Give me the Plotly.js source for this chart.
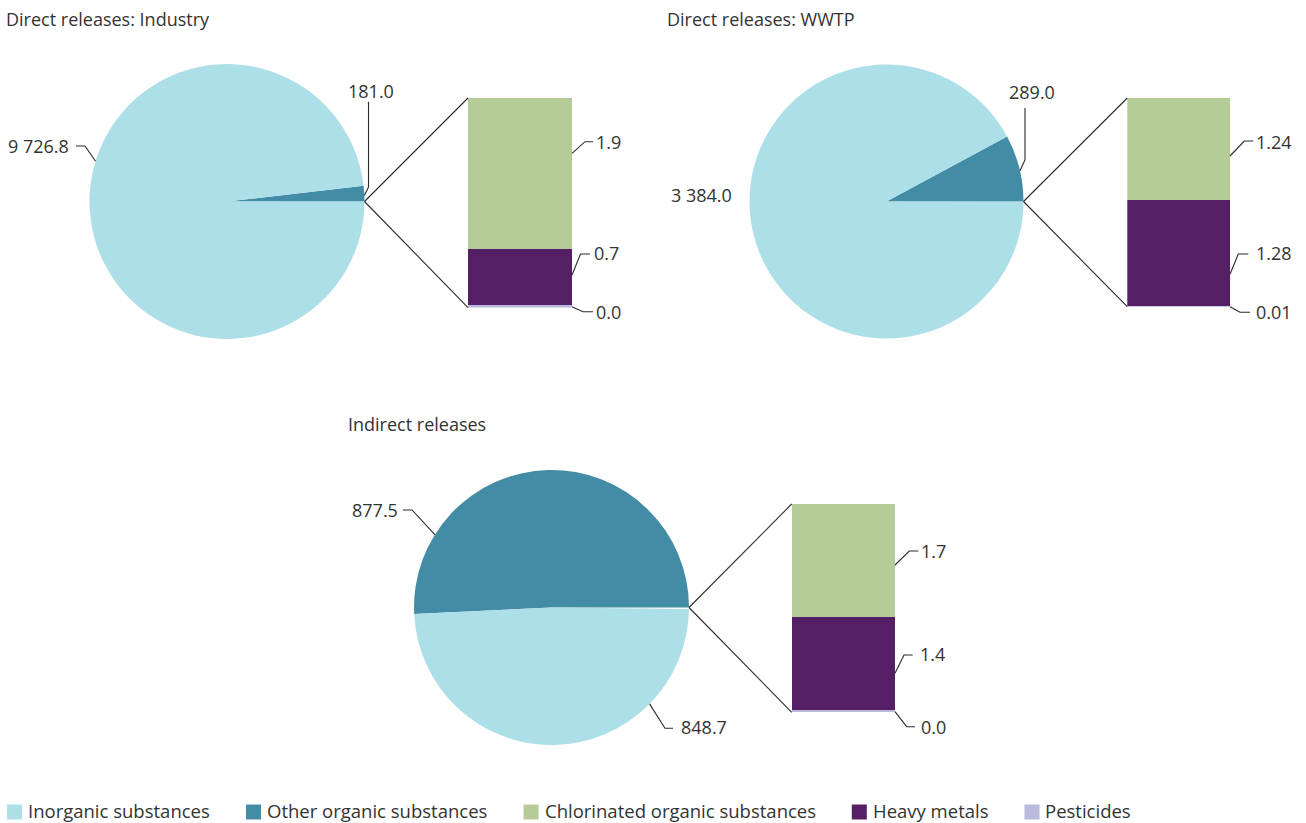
<!DOCTYPE html>
<html>
<head>
<meta charset="utf-8">
<script src="https://cdn.plot.ly/plotly-3.0.1.min.js"></script>
<style>html,body{margin:0;padding:0;background:#fff;}#chart{width:1306px;height:823px;}</style>
</head>
<body>
<div id="chart"></div>
<script>
// ---------- DATA ----------
const chartTitles = ['Direct releases: Industry', 'Direct releases: WWTP', 'Indirect releases'];
const categories = ['Inorganic substances', 'Other organic substances', 'Chlorinated organic substances', 'Heavy metals', 'Pesticides'];
const inorganic = [9726.8, 3384.0, 848.7];
const otherOrganic = [181.0, 289.0, 877.5];
const chlorinated = [1.9, 1.24, 1.7];
const heavyMetals = [0.7, 1.28, 1.4];
const pesticides = [0.03, 0.01, 0.03];
const barDecimals = [1, 2, 1];
const colors = ['#addfe8', '#438ca6', '#b5cc98', '#551f66', '#bbb9dc'];

// ---------- LAYOUT CONSTANTS (pixels) ----------
const W = 1306, H = 823;
const FONT = 'Open Sans, sans-serif';
const TXT = '#333333';
const FS = 18;
const PADL = 2; // annotation inner padding compensation
const LINE = {color: '#2b2b2b', width: 1.1};
const pieGeom = [{cx: 227, cy: 201.5, r: 137.5}, {cx: 886.5, cy: 201.5, r: 137}, {cx: 551.5, cy: 607.5, r: 137.5}];
const barGeom = [{x0: 468, x1: 572, y0: 98, h: 209.6}, {x0: 1127.3, x1: 1230, y0: 98, h: 208.7}, {x0: 791.7, x1: 895, y0: 504, h: 208.3}];
const titlePos = [{x: 7, y: 19}, {x: 668, y: 19}, {x: 349, y: 424}];
// pie label leaders: edge angle (deg), polyline after edge point, text position/anchor
const pieLabelSpec = [
  [ // inorganic, other
    {ang: 163, pts: [[85, 146], [76, 146]], tx: 67.5, ty: 146, anchor: 'right'},
    {ang: 2.5, pts: [[368.5, 187], [368.5, 101.7]], tx: 371, ty: 90.7, anchor: 'center'}
  ],
  [
    {ang: null, pts: [], tx: 730.5, ty: 195, anchor: 'right'},
    {ang: 13, pts: [[1025, 160], [1025, 108]], tx: 1031.5, ty: 91.7, anchor: 'center'}
  ],
  [
    {ang: -44.5, pts: [[665, 728.3], [673, 728.3]], tx: 681.5, ty: 726.7, anchor: 'left'},
    {ang: 148, pts: [[412, 510], [403, 510]], tx: 396.5, ty: 510, anchor: 'right'}
  ]
];
// bar label leaders relative to bar right edge (x1) and top (y0): [startDy, elbowDx, elbowDy, endDx, textDx, textDy]
const barLabelSpec = [
  [[55.3, 13, 43.7, 21, 25, 43.7], [177, 8.5, 156, 18, 23, 155.3], [208.7, 11, 213.7, 21, 25, 213.7]],
  [[58, 14.3, 43, 23.3, 26.7, 43.7], [176.3, 8.3, 156, 18.3, 27.3, 155.3], [208.7, 10, 214.3, 20, 26.7, 214]],
  [[61, 14.3, 47, 23.3, 27.3, 47], [169.3, 9, 151, 17.7, 26, 150], [207.7, 11.7, 222.7, 20, 27.3, 222.7]]
];

const px = x => x / W;
const py = y => 1 - y / H;
function fmt(v, d) {
  const s = v.toFixed(d);
  const parts = s.split('.');
  parts[0] = parts[0].replace(/\B(?=(\d{3})+(?!\d))/g, ' ');
  return parts.join('.');
}

const traces = [];
const shapes = [];
const annotations = [];
const layout = {
  width: W, height: H,
  margin: {l: 0, r: 0, t: 0, b: 0},
  paper_bgcolor: '#ffffff', plot_bgcolor: '#ffffff',
  showlegend: false, hovermode: false,
  barmode: 'stack', bargap: 0,
  font: {family: FONT, color: TXT, size: FS}
};

function addText(x, y, anchor, text, size) {
  const dx = anchor === 'left' ? -PADL : (anchor === 'right' ? PADL : 0);
  annotations.push({xref: 'paper', yref: 'paper', x: px(x + dx), y: py(y), xanchor: anchor, yanchor: 'middle', showarrow: false, text: text, borderpad: 0, font: {family: FONT, size: size || FS, color: TXT}});
}

for (let i = 0; i < 3; i++) {
  const g = pieGeom[i];
  const b = barGeom[i];
  const barVals = [pesticides[i], heavyMetals[i], chlorinated[i]];
  const barTotal = barVals.reduce((a, c) => a + c, 0);
  // pie: small white wedge = bar group, then other organic, then inorganic
  traces.push({
    type: 'pie',
    values: [barTotal, otherOrganic[i], inorganic[i]],
    labels: ['Bar group', categories[1], categories[0]],
    marker: {colors: ['#ffffff', colors[1], colors[0]], line: {width: 0}},
    sort: false, direction: 'counterclockwise', rotation: 90,
    textinfo: 'none', hoverinfo: 'skip', showlegend: false,
    domain: {x: [px(g.cx - g.r), px(g.cx + g.r)], y: [py(g.cy + g.r), py(g.cy - g.r)]}
  });
  // stacked bar
  const sfx = i === 0 ? '' : String(i + 1);
  const barColors = [colors[4], colors[3], colors[2]];
  const barNames = [categories[4], categories[3], categories[2]];
  for (let k = 0; k < 3; k++) {
    traces.push({
      type: 'bar', x: [0], y: [barVals[k]], width: [1],
      name: barNames[k], marker: {color: barColors[k], line: {width: 0}},
      xaxis: 'x' + sfx, yaxis: 'y' + sfx, hoverinfo: 'skip', showlegend: false
    });
  }
  layout['xaxis' + sfx] = {domain: [px(b.x0), px(b.x1)], range: [-0.5, 0.5], visible: false, fixedrange: true, anchor: 'y' + sfx};
  layout['yaxis' + sfx] = {domain: [py(b.y0 + b.h), py(b.y0)], range: [0, barTotal], visible: false, fixedrange: true, anchor: 'x' + sfx};

  // connector lines pie -> bar
  const ex = g.cx + g.r, ey = g.cy;
  [[b.x0, b.y0], [b.x0, b.y0 + b.h]].forEach(p => {
    shapes.push({type: 'line', xref: 'paper', yref: 'paper', x0: px(ex), y0: py(ey), x1: px(p[0]), y1: py(p[1]), line: LINE});
  });

  // title
  addText(titlePos[i].x, titlePos[i].y, 'left', chartTitles[i]);

  // pie labels (spec order: inorganic, other)
  const pieVals = [inorganic[i], otherOrganic[i]];
  pieLabelSpec[i].forEach((s, j) => {
    if (s.ang !== null) {
      const a = s.ang * Math.PI / 180;
      const sx = g.cx + g.r * Math.cos(a), sy = g.cy - g.r * Math.sin(a);
      let path = 'M ' + px(sx) + ',' + py(sy);
      s.pts.forEach(p => { path += ' L ' + px(p[0]) + ',' + py(p[1]); });
      shapes.push({type: 'path', xref: 'paper', yref: 'paper', path: path, line: LINE});
    }
    addText(s.tx, s.ty, s.anchor, fmt(pieVals[j], 1));
  });

  // bar labels (top to bottom: chlorinated, heavy metals, pesticides)
  const barLabVals = [chlorinated[i], heavyMetals[i], pesticides[i]];
  barLabelSpec[i].forEach((s, k) => {
    const path = 'M ' + px(b.x1) + ',' + py(b.y0 + s[0]) + ' L ' + px(b.x1 + s[1]) + ',' + py(b.y0 + s[2]) + ' L ' + px(b.x1 + s[3]) + ',' + py(b.y0 + s[2]);
    shapes.push({type: 'path', xref: 'paper', yref: 'paper', path: path, line: LINE});
    addText(b.x1 + s[4], b.y0 + s[5], 'left', fmt(barLabVals[k], barDecimals[i]));
  });
}

// legend (manual)
const LEG_SIZE = 18.5;
const ctx = document.createElement('canvas').getContext('2d');
ctx.font = LEG_SIZE + 'px "Open Sans"';
let lx = 7;
const ly = 810.5;
categories.forEach((c, i) => {
  shapes.push({type: 'rect', xref: 'paper', yref: 'paper', x0: px(lx), x1: px(lx + 15), y0: py(ly + 9), y1: py(ly - 6), fillcolor: colors[i], line: {width: 0}});
  addText(lx + 22, ly, 'left', c, LEG_SIZE);
  lx = lx + 22 + ctx.measureText(c).width + 35.2;
});

layout.shapes = shapes;
layout.annotations = annotations;
Plotly.newPlot('chart', traces, layout, {displayModeBar: false, staticPlot: true});
</script>
</body>
</html>
